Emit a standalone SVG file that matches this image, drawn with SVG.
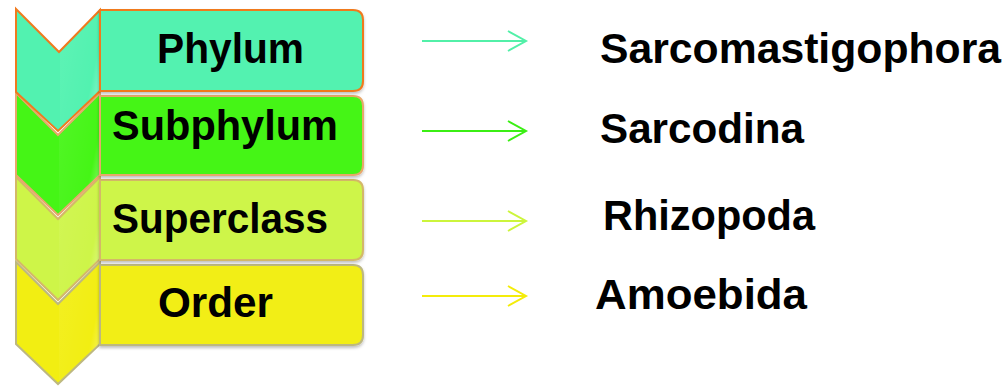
<svg xmlns="http://www.w3.org/2000/svg" width="1007" height="387" viewBox="0 0 1007 387">
<style>
.lbl{font-family:"Liberation Sans",Arial,sans-serif;font-weight:bold;font-size:42px;fill:#000}
.box{stroke-width:2}
.chev{stroke-width:2;stroke-linejoin:miter}
.hl{fill:url(#hl)}
.arr{fill:none;stroke-width:2;stroke-linecap:butt}
</style>
<defs>
<linearGradient id="hl" x1="0" y1="0" x2="1" y2="0.6">
<stop offset="0" stop-color="#fff" stop-opacity="0.9"/>
<stop offset="0.15" stop-color="#fff" stop-opacity="0.1"/>
<stop offset="0.85" stop-color="#fff" stop-opacity="0"/>
<stop offset="1" stop-color="#fff" stop-opacity="0.35"/>
</linearGradient>
<filter id="sh" x="-5%" y="-5%" width="110%" height="115%">
<feDropShadow dx="0" dy="2" stdDeviation="1.5" flood-color="#000" flood-opacity="0.25"/>
</filter>
</defs>

<g id="node-order">
<polygon class="chev" points="16,262 58,304 100,262 100,344 58,384 16,344" fill="#F2EE12" stroke="#BDB880"/>
<polygon class="hl" points="59,305 100,264 100,343 59,383" opacity="0.6"/>
<path class="box" filter="url(#sh)" d="M100,265 H353 Q363,265 363,275 V335 Q363,345 353,345 H100 Z" fill="#F2EE12" stroke="#BDB880"/>
<text class="lbl" x="158" y="317" textLength="115" lengthAdjust="spacingAndGlyphs">Order</text>
</g>

<g id="node-superclass">
<polygon class="chev" points="16,177 58,219 100,177 100,259 58,300 16,259" fill="#CEF548" stroke="#D4B868"/>
<polygon class="hl" points="59,220 100,179 100,258 59,299" opacity="0.6"/>
<path class="box" filter="url(#sh)" d="M100,180 H353 Q363,180 363,190 V250 Q363,260 353,260 H100 Z" fill="#CEF548" stroke="#D4B868"/>
<text class="lbl" x="112" y="233" textLength="216" lengthAdjust="spacingAndGlyphs">Superclass</text>
</g>

<g id="node-subphylum">
<polygon class="chev" points="16,93 58,135 100,93 100,175 58,215 16,175" fill="#45F516" stroke="#E8A86A"/>
<polygon class="hl" points="59,136 100,95 100,174 59,214" opacity="0.6"/>
<path class="box" filter="url(#sh)" d="M100,96 H353 Q363,96 363,106 V165 Q363,175 353,175 H100 Z" fill="#45F516" stroke="#E8A86A"/>
<text class="lbl" x="112" y="140" textLength="226" lengthAdjust="spacingAndGlyphs">Subphylum</text>
</g>

<g id="node-phylum">
<polygon class="chev" points="16,9 59,52 100,10 100,91 58,131 16,92" fill="#52F2B0" stroke="#F07A1E"/>
<polygon class="hl" points="60,53 99,13 99,90 60,129" opacity="0.6"/>
<path class="box" filter="url(#sh)" d="M100,10 H353 Q363,10 363,20 V81 Q363,91 353,91 H100 Z" fill="#52F2B0" stroke="#F07A1E"/>
<text class="lbl" x="157" y="63" textLength="147" lengthAdjust="spacingAndGlyphs">Phylum</text>
</g>

<g id="connectors">
<path class="arr" stroke="#52F0A8" d="M422,41 H525 M508,31 L526,41 L508,51"/>
<path class="arr" stroke="#3BEF14" d="M422,131 H525 M508,121 L526,131 L508,141"/>
<path class="arr" stroke="#CCF53C" d="M422,221 H525 M508,211 L526,221 L508,231"/>
<path class="arr" stroke="#F4EC0A" d="M422,296 H525 M508,286 L526,296 L508,306"/>
</g>

<g id="taxa">
<text class="lbl" x="600" y="63" textLength="401" lengthAdjust="spacingAndGlyphs">Sarcomastigophora</text>
<text class="lbl" x="600" y="143" textLength="204" lengthAdjust="spacingAndGlyphs">Sarcodina</text>
<text class="lbl" x="603" y="230" textLength="212" lengthAdjust="spacingAndGlyphs">Rhizopoda</text>
<text class="lbl" x="595" y="309" textLength="212" lengthAdjust="spacingAndGlyphs">Amoebida</text>
</g>
</svg>
